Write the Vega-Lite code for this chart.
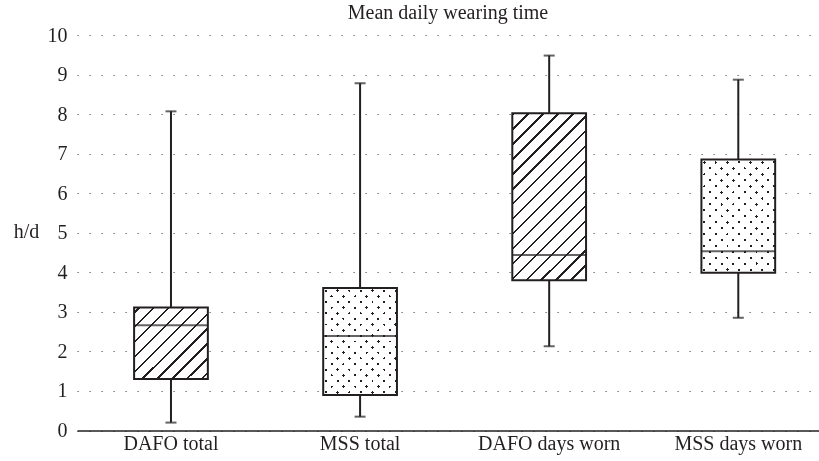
{
  "$schema": "https://vega.github.io/schema/vega-lite/v6.json",
  "autosize": {"type": "none"},
  "padding": {"left": 77, "top": 35, "right": 0, "bottom": 30.5},
  "width": 742,
  "height": 395.5,
  "background": "white",
  "title": {"text": "Mean daily wearing time", "fontSize": 20, "font": "Liberation Serif", "fontWeight": "normal", "color": "#231f20", "anchor": "middle", "offset": 2},
  "config": {"view": {"stroke": null}, "font": "Liberation Serif",
    "axisY": {"titleAngle": 0, "titleFont": "Liberation Serif", "titleFontSize": 20, "titleFontWeight": "normal", "titleColor": "#231f20", "titleAlign": "center", "titleBaseline": "alphabetic", "titleX": -51, "titleY": 202,
      "values": [0, 1, 2, 3, 4, 5, 6, 7, 8, 9, 10], "labelFontSize": 20, "labelFont": "Liberation Serif", "labelColor": "#231f20", "labelPadding": 10, "ticks": false, "domain": false,
      "grid": true, "gridDash": [1.2, 10.8], "gridColor": "#555", "gridWidth": 1.2}},
  "data": {"values": [
    {"group": "DAFO total", "min": 0.2, "q1": 1.30, "median": 2.66, "q3": 3.11, "max": 8.07},
    {"group": "MSS total", "min": 0.35, "q1": 0.90, "median": 2.39, "q3": 3.60, "max": 8.78},
    {"group": "DAFO days worn", "min": 2.13, "q1": 3.80, "median": 4.44, "q3": 8.02, "max": 9.48},
    {"group": "MSS days worn", "min": 2.85, "q1": 3.99, "median": 4.53, "q3": 6.85, "max": 8.87}
  ]},
  "encoding": {
    "x": {"field": "group", "type": "nominal", "sort": ["DAFO total", "MSS total", "DAFO days worn", "MSS days worn"],
      "scale": {"paddingInner": 0.61, "paddingOuter": 0.2669, "align": 0.5657},
      "axis": {"title": null, "labelAngle": 0, "labelFontSize": 20, "labelFont": "Liberation Serif", "labelColor": "#231f20", "labelPadding": 3, "ticks": false, "domainColor": "#231f20", "domainWidth": 1.5, "grid": false}}
  },
  "layer": [
    {
      "mark": {"type": "rule", "stroke": "#231f20", "strokeWidth": 2},
      "encoding": {
        "y": {"field": "min", "type": "quantitative", "title": "h/d", "scale": {"domain": [0, 10], "nice": false, "zero": false}},
        "y2": {"field": "max"}
      }
    },
    {
      "transform": [{"filter": "datum.group === 'DAFO total'"}],
      "mark": {"type": "bar", "strokeWidth": 0, "fill": {"gradient": "linear", "x1": 0, "y1": 0, "x2": 1.0142, "y2": 0.9853, "stops": [
        {"offset": 0, "color": "white"},
        {"offset": 0.02797, "color": "white"}, {"offset": 0.02797, "color": "#231f20"}, {"offset": 0.04434, "color": "#231f20"}, {"offset": 0.04434, "color": "white"},
        {"offset": 0.13029, "color": "white"}, {"offset": 0.13029, "color": "#231f20"}, {"offset": 0.14666, "color": "#231f20"}, {"offset": 0.14666, "color": "white"},
        {"offset": 0.23261, "color": "white"}, {"offset": 0.23261, "color": "#231f20"}, {"offset": 0.24898, "color": "#231f20"}, {"offset": 0.24898, "color": "white"},
        {"offset": 0.33493, "color": "white"}, {"offset": 0.33493, "color": "#231f20"}, {"offset": 0.35130, "color": "#231f20"}, {"offset": 0.35130, "color": "white"},
        {"offset": 0.43725, "color": "white"}, {"offset": 0.43725, "color": "#231f20"}, {"offset": 0.45362, "color": "#231f20"}, {"offset": 0.45362, "color": "white"},
        {"offset": 0.53957, "color": "white"}, {"offset": 0.53957, "color": "#231f20"}, {"offset": 0.55594, "color": "#231f20"}, {"offset": 0.55594, "color": "white"},
        {"offset": 0.64188, "color": "white"}, {"offset": 0.64188, "color": "#231f20"}, {"offset": 0.65826, "color": "#231f20"}, {"offset": 0.65826, "color": "white"},
        {"offset": 0.74420, "color": "white"}, {"offset": 0.74420, "color": "#231f20"}, {"offset": 0.76058, "color": "#231f20"}, {"offset": 0.76058, "color": "white"},
        {"offset": 0.84652, "color": "white"}, {"offset": 0.84652, "color": "#231f20"}, {"offset": 0.86289, "color": "#231f20"}, {"offset": 0.86289, "color": "white"},
        {"offset": 0.94884, "color": "white"}, {"offset": 0.94884, "color": "#231f20"}, {"offset": 0.96521, "color": "#231f20"}, {"offset": 0.96521, "color": "white"},
        {"offset": 1, "color": "white"}
      ]}},
      "encoding": {"y": {"field": "q1", "type": "quantitative", "title": "h/d"}, "y2": {"field": "q3"}}
    },
    {
      "transform": [{"filter": "datum.group === 'DAFO days worn'"}],
      "mark": {"type": "bar", "strokeWidth": 0, "fill": {"gradient": "linear", "x1": 0, "y1": 0, "x2": 0.5327, "y2": 1.2064, "stops": [
        {"offset": 0, "color": "white"},
        {"offset": 0.00165, "color": "white"}, {"offset": 0.00165, "color": "#231f20"}, {"offset": 0.01157, "color": "#231f20"}, {"offset": 0.01157, "color": "white"},
        {"offset": 0.06366, "color": "white"}, {"offset": 0.06366, "color": "#231f20"}, {"offset": 0.07358, "color": "#231f20"}, {"offset": 0.07358, "color": "white"},
        {"offset": 0.12567, "color": "white"}, {"offset": 0.12567, "color": "#231f20"}, {"offset": 0.13559, "color": "#231f20"}, {"offset": 0.13559, "color": "white"},
        {"offset": 0.18768, "color": "white"}, {"offset": 0.18768, "color": "#231f20"}, {"offset": 0.19760, "color": "#231f20"}, {"offset": 0.19760, "color": "white"},
        {"offset": 0.24969, "color": "white"}, {"offset": 0.24969, "color": "#231f20"}, {"offset": 0.25961, "color": "#231f20"}, {"offset": 0.25961, "color": "white"},
        {"offset": 0.31170, "color": "white"}, {"offset": 0.31170, "color": "#231f20"}, {"offset": 0.32162, "color": "#231f20"}, {"offset": 0.32162, "color": "white"},
        {"offset": 0.37371, "color": "white"}, {"offset": 0.37371, "color": "#231f20"}, {"offset": 0.38363, "color": "#231f20"}, {"offset": 0.38363, "color": "white"},
        {"offset": 0.43572, "color": "white"}, {"offset": 0.43572, "color": "#231f20"}, {"offset": 0.44564, "color": "#231f20"}, {"offset": 0.44564, "color": "white"},
        {"offset": 0.49773, "color": "white"}, {"offset": 0.49773, "color": "#231f20"}, {"offset": 0.50765, "color": "#231f20"}, {"offset": 0.50765, "color": "white"},
        {"offset": 0.55974, "color": "white"}, {"offset": 0.55974, "color": "#231f20"}, {"offset": 0.56966, "color": "#231f20"}, {"offset": 0.56966, "color": "white"},
        {"offset": 0.62175, "color": "white"}, {"offset": 0.62175, "color": "#231f20"}, {"offset": 0.63167, "color": "#231f20"}, {"offset": 0.63167, "color": "white"},
        {"offset": 0.68375, "color": "white"}, {"offset": 0.68375, "color": "#231f20"}, {"offset": 0.69367, "color": "#231f20"}, {"offset": 0.69367, "color": "white"},
        {"offset": 0.74576, "color": "white"}, {"offset": 0.74576, "color": "#231f20"}, {"offset": 0.75568, "color": "#231f20"}, {"offset": 0.75568, "color": "white"},
        {"offset": 0.80777, "color": "white"}, {"offset": 0.80777, "color": "#231f20"}, {"offset": 0.81769, "color": "#231f20"}, {"offset": 0.81769, "color": "white"},
        {"offset": 0.86978, "color": "white"}, {"offset": 0.86978, "color": "#231f20"}, {"offset": 0.87970, "color": "#231f20"}, {"offset": 0.87970, "color": "white"},
        {"offset": 0.93179, "color": "white"}, {"offset": 0.93179, "color": "#231f20"}, {"offset": 0.94171, "color": "#231f20"}, {"offset": 0.94171, "color": "white"},
        {"offset": 0.99379, "color": "white"}, {"offset": 0.99379, "color": "#231f20"}, {"offset": 1, "color": "#231f20"}
      ]}},
      "encoding": {"y": {"field": "q1", "type": "quantitative", "title": "h/d"}, "y2": {"field": "q3"}}
    },
    {
      "transform": [{"filter": "datum.group === 'MSS total' || datum.group === 'MSS days worn'"}],
      "mark": {"type": "bar", "strokeWidth": 0, "fill": {"gradient": "linear", "x1": 0, "y1": 0, "x2": 0.7722, "y2": 1.1526, "stops": [
        {"offset": 0, "color": "white"},
        {"offset": 0.0222, "color": "white"}, {"offset": 0.0222, "color": "#231f20"}, {"offset": 0.0378, "color": "#231f20"}, {"offset": 0.0378, "color": "white"},
        {"offset": 0.0854, "color": "white"}, {"offset": 0.0854, "color": "#231f20"}, {"offset": 0.1010, "color": "#231f20"}, {"offset": 0.1010, "color": "white"},
        {"offset": 0.1487, "color": "white"}, {"offset": 0.1487, "color": "#231f20"}, {"offset": 0.1643, "color": "#231f20"}, {"offset": 0.1643, "color": "white"},
        {"offset": 0.2119, "color": "white"}, {"offset": 0.2119, "color": "#231f20"}, {"offset": 0.2275, "color": "#231f20"}, {"offset": 0.2275, "color": "white"},
        {"offset": 0.2752, "color": "white"}, {"offset": 0.2752, "color": "#231f20"}, {"offset": 0.2908, "color": "#231f20"}, {"offset": 0.2908, "color": "white"},
        {"offset": 0.3384, "color": "white"}, {"offset": 0.3384, "color": "#231f20"}, {"offset": 0.3540, "color": "#231f20"}, {"offset": 0.3540, "color": "white"},
        {"offset": 0.4017, "color": "white"}, {"offset": 0.4017, "color": "#231f20"}, {"offset": 0.4173, "color": "#231f20"}, {"offset": 0.4173, "color": "white"},
        {"offset": 0.4649, "color": "white"}, {"offset": 0.4649, "color": "#231f20"}, {"offset": 0.4805, "color": "#231f20"}, {"offset": 0.4805, "color": "white"},
        {"offset": 0.5281, "color": "white"}, {"offset": 0.5281, "color": "#231f20"}, {"offset": 0.5437, "color": "#231f20"}, {"offset": 0.5437, "color": "white"},
        {"offset": 0.5914, "color": "white"}, {"offset": 0.5914, "color": "#231f20"}, {"offset": 0.6070, "color": "#231f20"}, {"offset": 0.6070, "color": "white"},
        {"offset": 0.6546, "color": "white"}, {"offset": 0.6546, "color": "#231f20"}, {"offset": 0.6702, "color": "#231f20"}, {"offset": 0.6702, "color": "white"},
        {"offset": 0.7179, "color": "white"}, {"offset": 0.7179, "color": "#231f20"}, {"offset": 0.7335, "color": "#231f20"}, {"offset": 0.7335, "color": "white"},
        {"offset": 0.7811, "color": "white"}, {"offset": 0.7811, "color": "#231f20"}, {"offset": 0.7967, "color": "#231f20"}, {"offset": 0.7967, "color": "white"},
        {"offset": 0.8444, "color": "white"}, {"offset": 0.8444, "color": "#231f20"}, {"offset": 0.8600, "color": "#231f20"}, {"offset": 0.8600, "color": "white"},
        {"offset": 0.9076, "color": "white"}, {"offset": 0.9076, "color": "#231f20"}, {"offset": 0.9232, "color": "#231f20"}, {"offset": 0.9232, "color": "white"},
        {"offset": 0.9708, "color": "white"}, {"offset": 0.9708, "color": "#231f20"}, {"offset": 0.9864, "color": "#231f20"}, {"offset": 0.9864, "color": "white"},
        {"offset": 1, "color": "white"}
      ]}},
      "encoding": {"y": {"field": "q1", "type": "quantitative", "title": "h/d"}, "y2": {"field": "q3"}}
    },
    {
      "transform": [{"filter": "datum.group === 'MSS total' || datum.group === 'MSS days worn'"}],
      "mark": {"type": "bar", "strokeWidth": 0, "blend": "lighten", "fill": {"gradient": "linear", "x1": 0, "y1": 1, "x2": 0.7722, "y2": -0.1526, "stops": [
        {"offset": 0, "color": "white"},
        {"offset": 0.0222, "color": "white"}, {"offset": 0.0222, "color": "#231f20"}, {"offset": 0.0378, "color": "#231f20"}, {"offset": 0.0378, "color": "white"},
        {"offset": 0.0854, "color": "white"}, {"offset": 0.0854, "color": "#231f20"}, {"offset": 0.1010, "color": "#231f20"}, {"offset": 0.1010, "color": "white"},
        {"offset": 0.1487, "color": "white"}, {"offset": 0.1487, "color": "#231f20"}, {"offset": 0.1643, "color": "#231f20"}, {"offset": 0.1643, "color": "white"},
        {"offset": 0.2119, "color": "white"}, {"offset": 0.2119, "color": "#231f20"}, {"offset": 0.2275, "color": "#231f20"}, {"offset": 0.2275, "color": "white"},
        {"offset": 0.2752, "color": "white"}, {"offset": 0.2752, "color": "#231f20"}, {"offset": 0.2908, "color": "#231f20"}, {"offset": 0.2908, "color": "white"},
        {"offset": 0.3384, "color": "white"}, {"offset": 0.3384, "color": "#231f20"}, {"offset": 0.3540, "color": "#231f20"}, {"offset": 0.3540, "color": "white"},
        {"offset": 0.4017, "color": "white"}, {"offset": 0.4017, "color": "#231f20"}, {"offset": 0.4173, "color": "#231f20"}, {"offset": 0.4173, "color": "white"},
        {"offset": 0.4649, "color": "white"}, {"offset": 0.4649, "color": "#231f20"}, {"offset": 0.4805, "color": "#231f20"}, {"offset": 0.4805, "color": "white"},
        {"offset": 0.5281, "color": "white"}, {"offset": 0.5281, "color": "#231f20"}, {"offset": 0.5437, "color": "#231f20"}, {"offset": 0.5437, "color": "white"},
        {"offset": 0.5914, "color": "white"}, {"offset": 0.5914, "color": "#231f20"}, {"offset": 0.6070, "color": "#231f20"}, {"offset": 0.6070, "color": "white"},
        {"offset": 0.6546, "color": "white"}, {"offset": 0.6546, "color": "#231f20"}, {"offset": 0.6702, "color": "#231f20"}, {"offset": 0.6702, "color": "white"},
        {"offset": 0.7179, "color": "white"}, {"offset": 0.7179, "color": "#231f20"}, {"offset": 0.7335, "color": "#231f20"}, {"offset": 0.7335, "color": "white"},
        {"offset": 0.7811, "color": "white"}, {"offset": 0.7811, "color": "#231f20"}, {"offset": 0.7967, "color": "#231f20"}, {"offset": 0.7967, "color": "white"},
        {"offset": 0.8444, "color": "white"}, {"offset": 0.8444, "color": "#231f20"}, {"offset": 0.8600, "color": "#231f20"}, {"offset": 0.8600, "color": "white"},
        {"offset": 0.9076, "color": "white"}, {"offset": 0.9076, "color": "#231f20"}, {"offset": 0.9232, "color": "#231f20"}, {"offset": 0.9232, "color": "white"},
        {"offset": 0.9708, "color": "white"}, {"offset": 0.9708, "color": "#231f20"}, {"offset": 0.9864, "color": "#231f20"}, {"offset": 0.9864, "color": "white"},
        {"offset": 1, "color": "white"}
      ]}},
      "encoding": {"y": {"field": "q1", "type": "quantitative", "title": "h/d"}, "y2": {"field": "q3"}}
    },
    {
      "mark": {"type": "bar", "fill": "white", "fillOpacity": 0, "stroke": "#231f20", "strokeWidth": 2},
      "encoding": {"y": {"field": "q1", "type": "quantitative", "title": "h/d"}, "y2": {"field": "q3"}}
    },
    {
      "mark": {"type": "tick", "color": "#231f20", "size": 74, "thickness": 2},
      "encoding": {"y": {"field": "median", "type": "quantitative", "title": "h/d"}}
    },
    {
      "mark": {"type": "tick", "color": "#231f20", "size": 11, "thickness": 2},
      "encoding": {"y": {"field": "min", "type": "quantitative", "title": "h/d"}}
    },
    {
      "mark": {"type": "tick", "color": "#231f20", "size": 11, "thickness": 2},
      "encoding": {"y": {"field": "max", "type": "quantitative", "title": "h/d"}}
    }
  ]
}
